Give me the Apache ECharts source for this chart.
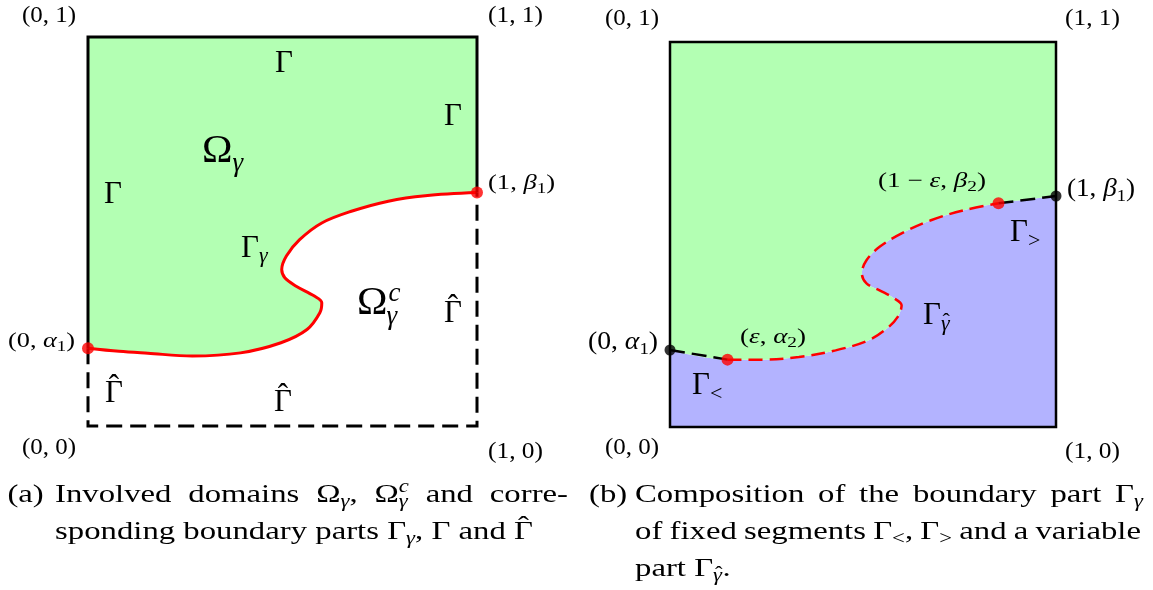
<!DOCTYPE html>
<html>
<head>
<meta charset="utf-8">
<script src="https://cdn.jsdelivr.net/npm/echarts@6/dist/echarts.min.js"></script>
<style>
  html, body { margin: 0; padding: 0; background: #fff; }
  #chart { width: 1153px; height: 590px; }
</style>
</head>
<body>
<div id="chart"></div>
<script>
// End points of the interface on the unit square
const alpha1 = 0.2;
const beta1 = 0.6;
const eps = 0.149;
const alpha2 = 0.175;
const beta2 = 0.581;

// Interior points of the interface Γ_γ in panel (a), between (0, α1) and (1, β1)
const gammaAX = [0.08, 0.154, 0.268, 0.392, 0.496, 0.563, 0.596, 0.601, 0.582, 0.534, 0.506, 0.498, 0.510, 0.544, 0.601, 0.677, 0.772, 0.867];
const gammaAY = [0.192, 0.187, 0.180, 0.188, 0.214, 0.248, 0.291, 0.317, 0.334, 0.360, 0.381, 0.402, 0.437, 0.479, 0.522, 0.552, 0.578, 0.592];

// Interior points of the variable part Γ_γ̂ in panel (b), between (ε, α2) and (1-ε, β2)
const gammaBX = [0.239, 0.334, 0.429, 0.514, 0.562, 0.590, 0.600, 0.581, 0.543, 0.509, 0.497, 0.509, 0.543, 0.600, 0.676, 0.761];
const gammaBY = [0.175, 0.182, 0.199, 0.225, 0.256, 0.286, 0.316, 0.334, 0.355, 0.373, 0.399, 0.433, 0.468, 0.503, 0.537, 0.563];

const zip = (xs, ys) => xs.map((x, i) => [x, ys[i]]);

const curveA = [[0, alpha1], ...zip(gammaAX, gammaAY), [1, beta1]];
const curveBMid = [[eps, alpha2], ...zip(gammaBX, gammaBY), [1 - eps, beta2]];
const curveBFull = [[0, alpha1], ...curveBMid, [1, beta1]];

const GREEN = '#b3ffb3';
const BLUE = '#b3b3ff';
const RED = '#ff0000';

// ---------- math-like text built from positioned pieces ----------
const SERIF = '"Liberation Serif", "DejaVu Serif", serif';
const mctx = document.createElement('canvas').getContext('2d');
const fontOf = p => (p.it ? 'italic ' : '') + p.s + 'px ' + SERIF;
function measure(p) { mctx.font = fontOf(p); return mctx.measureText(p.t).width; }
const R = (t, s, o) => Object.assign({ t, s }, o || {});
const I = (t, s, o) => Object.assign({ t, s, it: true }, o || {});

function layout(pieces) {
  let cur = 0, prevX = 0, prevW = 0;
  const items = [];
  pieces.forEach(p => {
    const w = measure(p);
    let x;
    if (p.over) x = prevX + (prevW - w) / 2 + (p.dx || 0);
    else if (p.stack) x = prevX + (p.dx || 0);
    else x = cur + (p.dx || 0);
    items.push({ p, x, w });
    if (!p.over) { prevX = x; prevW = w; }
    cur = Math.max(cur, x + w);
  });
  return { items, width: cur };
}

const texts = [];
function emit(items, x0, base, sx) {
  items.forEach(({ p, x }) => texts.push({
    type: 'text', z: 100, silent: true,
    x: x0 + x * sx, y: base + (p.dy || 0) - 0.3 * p.s, scaleX: sx,
    style: { text: p.t, font: fontOf(p), fill: '#000', align: 'left', verticalAlign: 'middle' }
  }));
}
function label(pieces, opt) {
  const L = layout(pieces);
  const sx = opt.w ? opt.w / L.width : (opt.sx || 1);
  emit(L.items, opt.x, opt.y, sx);
}
function justify(words, x0, x1, base, sx) {
  const Ls = words.map(w => layout(typeof w === 'string' ? [R(w, CAP)] : w));
  const total = Ls.reduce((a, L) => a + L.width * sx, 0);
  const gap = (x1 - x0 - total) / (Ls.length - 1);
  let x = x0;
  Ls.forEach(L => { emit(L.items, x, base, sx); x += L.width * sx + gap; });
}

// ---------- panel (a) labels ----------
label([R('(0, 1)', 23)], { x: 22, y: 22.5, w: 54 });
label([R('(1, 1)', 23)], { x: 488, y: 22.5, w: 55 });
label([R('(0, 0)', 23)], { x: 22, y: 455, w: 54 });
label([R('(1, 0)', 23)], { x: 488, y: 459, w: 55 });
label([R('(0, ', 21), I('α', 21), R('1', 15, { dy: 4 }), R(')', 21)], { x: 8, y: 348, w: 67 });
label([R('(1, ', 21), I('β', 21), R('1', 15, { dy: 4 }), R(')', 21)], { x: 488, y: 190, w: 67 });

label([R('Γ', 31)], { x: 275, y: 73 });
label([R('Γ', 31)], { x: 444, y: 126 });
label([R('Γ', 31)], { x: 104, y: 204 });
label([R('Ω', 41), I('γ', 27, { dy: 8 })], { x: 202, y: 164 });
label([R('Γ', 31), I('γ', 22, { dy: 5 })], { x: 241, y: 258 });
label([R('Ω', 41), I('c', 27, { dy: -14, dx: 1 }), I('γ', 27, { stack: true, dy: 9, dx: -2 })], { x: 357, y: 316 });
label([R('Γ', 31), R('ˆ', 31, { over: true, dy: -6 })], { x: 444, y: 323 });
label([R('Γ', 31), R('ˆ', 31, { over: true, dy: -6 })], { x: 105, y: 403 });
label([R('Γ', 31), R('ˆ', 31, { over: true, dy: -6 })], { x: 274, y: 412 });

// ---------- panel (b) labels ----------
label([R('(0, 1)', 24)], { x: 605, y: 26, w: 54 });
label([R('(1, 1)', 24)], { x: 1065, y: 26, w: 55 });
label([R('(0, 0)', 24)], { x: 605, y: 455, w: 54 });
label([R('(1, 0)', 24)], { x: 1065, y: 459, w: 55 });
label([R('(0, ', 25), I('α', 25), R('1', 17, { dy: 5 }), R(')', 25)], { x: 588, y: 350, w: 70 });
label([R('(1, ', 25), I('β', 25), R('1', 17, { dy: 5 }), R(')', 25)], { x: 1067, y: 197, w: 68 });
label([R('(', 21), I('ε', 21), R(', ', 21), I('α', 21), R('2', 15, { dy: 4 }), R(')', 21)], { x: 740, y: 344, w: 66 });
label([R('(1 − ', 21), I('ε', 21), R(', ', 21), I('β', 21), R('2', 15, { dy: 4 }), R(')', 21)], { x: 878, y: 188, w: 108 });

label([R('Γ', 31), R('<', 22, { dy: 6 })], { x: 692, y: 395 });
label([R('Γ', 31), R('>', 22, { dy: 6 })], { x: 1010, y: 242 });
label([R('Γ', 31), I('γ', 22, { dy: 6 }), R('ˆ', 22, { over: true, dy: 4, dx: 1 })], { x: 923, y: 325 });

// ---------- captions ----------
const CAP = 26, SUB = 18;
const capLineA2 = [R('sponding boundary parts Γ', CAP), I('γ', SUB, { dy: 5 }), R(', Γ and ', CAP), R('Γ', CAP), R('ˆ', CAP, { over: true, dy: -5 })];
const capSX = 478 / layout(capLineA2).width;

label([R('(a)', CAP)], { x: 7.4, y: 503, sx: capSX });
justify(['Involved', 'domains',
  [R('Ω', CAP), I('γ', SUB, { dy: 5 }), R(',', CAP)],
  [R('Ω', CAP), I('c', SUB, { dy: -10 }), I('γ', SUB, { stack: true, dy: 5 })],
  'and', 'corre-'], 55, 568, 503, capSX);
label(capLineA2, { x: 55, y: 540, sx: capSX });

label([R('(b)', CAP)], { x: 589, y: 503, sx: capSX });
justify(['Composition', 'of', 'the', 'boundary', 'part',
  [R('Γ', CAP), I('γ', SUB, { dy: 5 })]], 635, 1143, 503, capSX);
justify(['of', 'fixed', 'segments',
  [R('Γ', CAP), R('<', SUB, { dy: 5 }), R(',', CAP)],
  [R('Γ', CAP), R('>', SUB, { dy: 5 })],
  'and', 'a', 'variable'], 635, 1141, 540, capSX);
label([R('part Γ', CAP), I('γ', SUB, { dy: 5 }), R('ˆ', SUB, { over: true, dy: 3, dx: 1 }), R('.', CAP)], { x: 635, y: 577, sx: capSX });

// ---------- chart ----------
const axisOff = { type: 'value', min: 0, max: 1, show: false };
const base = { type: 'line', symbol: 'none', silent: true, clip: false, animation: false };

const option = {
  animation: false,
  grid: [
    { left: 88, top: 37, width: 389, height: 389 },
    { left: 670, top: 42, width: 386, height: 385 }
  ],
  xAxis: [Object.assign({ gridIndex: 0 }, axisOff), Object.assign({ gridIndex: 1 }, axisOff)],
  yAxis: [Object.assign({ gridIndex: 0 }, axisOff), Object.assign({ gridIndex: 1 }, axisOff)],
  series: [
    // (a) Ω_γ filled above the interface Γ_γ
    Object.assign({}, base, {
      name: 'Γγ', xAxisIndex: 0, yAxisIndex: 0, data: curveA, smooth: 0.35, z: 2,
      lineStyle: { color: RED, width: 3 },
      areaStyle: { color: GREEN, opacity: 1, origin: 'end' }
    }),
    Object.assign({}, base, {
      name: 'Γ', xAxisIndex: 0, yAxisIndex: 0, z: 3,
      data: [[0, alpha1], [0, 1], [1, 1], [1, beta1]],
      lineStyle: { color: '#000', width: 3, join: 'miter' }
    }),
    Object.assign({}, base, {
      name: 'Γ̂', xAxisIndex: 0, yAxisIndex: 0, z: 3,
      data: [[0, alpha1], [0, 0], [1, 0], [1, beta1]],
      lineStyle: { color: '#000', width: 3, type: [16, 8], join: 'miter' }
    }),
    {
      type: 'scatter', xAxisIndex: 0, yAxisIndex: 0, silent: true, z: 6, animation: false,
      data: [[0, alpha1], [1, beta1]], symbolSize: 12, itemStyle: { color: RED }
    },

    // (b) regions below and above the composed boundary
    Object.assign({}, base, {
      xAxisIndex: 1, yAxisIndex: 1, data: curveBFull, smooth: 0.35, z: 1,
      lineStyle: { opacity: 0 }, areaStyle: { color: BLUE, opacity: 1, origin: 'start' }
    }),
    Object.assign({}, base, {
      xAxisIndex: 1, yAxisIndex: 1, data: curveBFull, smooth: 0.35, z: 1,
      lineStyle: { opacity: 0 }, areaStyle: { color: GREEN, opacity: 1, origin: 'end' }
    }),
    Object.assign({}, base, {
      name: 'Γγ̂', xAxisIndex: 1, yAxisIndex: 1, data: curveBMid, smooth: 0.35, z: 3,
      lineStyle: { color: RED, width: 2.5, type: [14, 7] }
    }),
    Object.assign({}, base, {
      name: 'Γ<', xAxisIndex: 1, yAxisIndex: 1, data: [[0, alpha1], [eps, alpha2]], z: 3,
      lineStyle: { color: '#000', width: 2.5, type: [15, 7] }
    }),
    Object.assign({}, base, {
      name: 'Γ>', xAxisIndex: 1, yAxisIndex: 1, data: [[1 - eps, beta2], [1, beta1]], z: 3,
      lineStyle: { color: '#000', width: 2.5, type: [15, 7] }
    }),
    Object.assign({}, base, {
      xAxisIndex: 1, yAxisIndex: 1, z: 4,
      data: [[0, 0], [0, 1], [1, 1], [1, 0], [0, 0]],
      lineStyle: { color: '#000', width: 2.5, join: 'miter', cap: 'square' }
    }),
    {
      type: 'scatter', xAxisIndex: 1, yAxisIndex: 1, silent: true, z: 6, animation: false,
      data: [[0, alpha1], [1, beta1]], symbolSize: 11, itemStyle: { color: '#000' }
    },
    {
      type: 'scatter', xAxisIndex: 1, yAxisIndex: 1, silent: true, z: 6, animation: false,
      data: [[eps, alpha2], [1 - eps, beta2]], symbolSize: 12, itemStyle: { color: RED }
    }
  ],
  graphic: { elements: texts }
};

const chart = echarts.init(document.getElementById('chart'));
chart.setOption(option);
</script>
</body>
</html>
